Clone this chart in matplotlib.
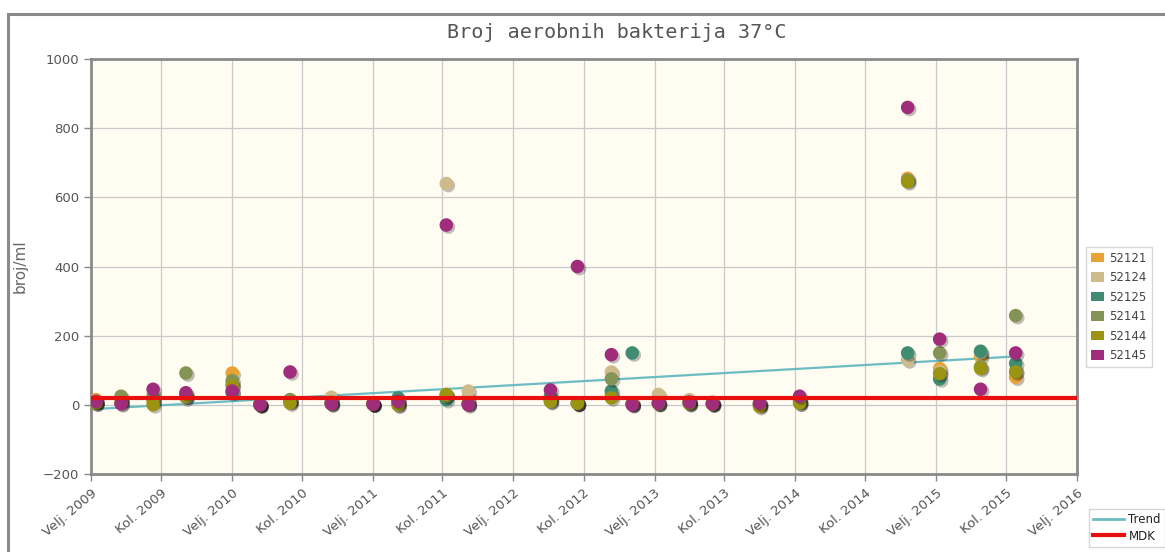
import matplotlib.pyplot as plt
import matplotlib.dates as mdates
import matplotlib.patheffects as pe
from matplotlib.lines import Line2D
from matplotlib.patches import Rectangle
import numpy as np

dates = ["2009-02-14", "2009-04-20", "2009-07-12", "2009-10-05", "2010-02-02",
         "2010-04-15", "2010-07-02", "2010-10-17", "2011-02-02", "2011-04-08",
         "2011-08-11", "2011-10-07", "2012-05-07", "2012-07-16", "2012-10-12",
         "2012-12-05", "2013-02-11", "2013-05-02", "2013-07-01", "2013-10-31",
         "2014-02-12", "2014-11-19", "2015-02-10", "2015-05-27", "2015-08-26"]

s52121 = [15, 10, 10, 30, 92, 3, 10, 10, 5, 5, 30, 20, 15, 5, 30, 5, 10, 10, 5, 3, 10, 655, 105, 140, 80]
s52124 = [10, 15, 30, 20, 60, 2, 15, 22, 3, 10, 640, 40, 20, 3, 95, 3, 30, 15, 8, 5, 5, 130, 95, 150, 100]
s52125 = [8, 20, 20, 25, 35, 0, 10, 5, 2, 20, 15, 5, 25, 5, 40, 150, 5, 5, 3, 0, 10, 150, 75, 155, 120]
s52141 = [5, 25, 15, 92, 70, 2, 15, 8, 3, 0, 25, 5, 10, 5, 75, 3, 5, 3, 5, 0, 15, 650, 150, 110, 258]
s52144 = [5, 5, 0, 25, 55, 0, 5, 3, 2, 0, 30, 3, 10, 5, 20, 2, 3, 5, 2, -5, 5, 645, 90, 105, 95]
s52145 = [10, 3, 45, 35, 40, 0, 95, 3, 2, 10, 520, 0, 43, 400, 145, 0, 5, 8, 3, 5, 25, 860, 190, 45, 150]

series_names = ["52121", "52124", "52125", "52141", "52144", "52145"]
series_values = [s52121, s52124, s52125, s52141, s52144, s52145]
series_colors = ["#e9a234", "#cdbb8c", "#3f8c70", "#849455", "#9b9413", "#a02c7c"]

trend_dates = ["2009-02-14", "2015-08-26"]
trend_values = [-12, 140]
mdk_value = 20

tick_dates = []
tick_labels = []
for yr in range(2009, 2017):
    tick_dates.append(f"{yr}-02-01")
    tick_labels.append(f"Velj. {yr}")
    if yr < 2016:
        tick_dates.append(f"{yr}-08-01")
        tick_labels.append(f"Kol. {yr}")

x = mdates.datestr2num(dates)
fig = plt.figure(figsize=(11.65, 5.52), dpi=100)
ax = fig.add_axes([91 / 1165, 1 - 474 / 552, (1077 - 91) / 1165, (474 - 59) / 552])
ax.set_facecolor("#fffcf2")

# outer frame of the chart
fig.patches.append(Rectangle((8 / 1165, -0.05), 1.1, 1 - 14 / 552 + 0.05,
                             transform=fig.transFigure, fill=False,
                             edgecolor="#8a8a8a", linewidth=2.2))

shadow = [pe.SimplePatchShadow(offset=(1.5, -1.5), shadow_rgbFace="#000000", alpha=0.25),
          pe.Normal()]
handles = []
for name, vals, col in zip(series_names, series_values, series_colors):
    ax.scatter(x, vals, s=95, color=col, edgecolors="none", zorder=4,
               path_effects=shadow)
    handles.append(Rectangle((0, 0), 1, 1, facecolor=col, edgecolor="none", label=name))

ax.plot(mdates.datestr2num(trend_dates), trend_values, color="#6cbcc4", lw=1.6, zorder=3)
xmin = mdates.datestr2num("2009-02-01")
xmax = mdates.datestr2num("2016-02-01")
ax.plot([xmin, xmax], [mdk_value, mdk_value], color="#e8100c", lw=3, zorder=5)

ax.set_xlim(xmin, xmax)
ax.set_ylim(-200, 1000)
ax.set_yticks(np.arange(-200, 1001, 200))
ax.set_xticks(mdates.datestr2num(tick_dates))
ax.set_xticklabels(tick_labels, rotation=40, ha="right", rotation_mode="anchor")
ax.tick_params(axis="both", colors="#888888", labelcolor="#555555", labelsize=9.5,
               length=5, width=1)
ax.tick_params(axis="x", pad=4)
ax.grid(True, color="#c9c9c9", lw=0.9)
ax.set_axisbelow(True)
for sp in ax.spines.values():
    sp.set_color("#8a8a8a")
    sp.set_linewidth(2)

ax.set_ylabel("broj/ml", color="#666666", fontsize=11)
ax.yaxis.set_label_coords(-0.064, 0.5)
fig.text(617 / 1165, 1 - 33 / 552, "Broj aerobnih bakterija 37°C", ha="center", va="center",
         fontsize=14.5, family="DejaVu Sans Mono", color="#555555")

leg1 = fig.legend(handles=handles, loc="upper left", bbox_to_anchor=(1080 / 1165, 1 - 241 / 552),
                  frameon=True, fontsize=8.5, handlelength=1.1, handleheight=0.9,
                  labelspacing=0.55, handletextpad=0.5, borderpad=0.4, fancybox=False,
                  edgecolor="#cccccc", labelcolor="#444444")
leg2 = fig.legend(handles=[Line2D([], [], color="#6cbcc4", lw=2, label="Trend"),
                           Line2D([], [], color="#e8100c", lw=3, label="MDK")],
                  loc="upper left", bbox_to_anchor=(1083 / 1165, 1 - 503 / 552),
                  frameon=True, fontsize=8.5, handlelength=2.6, labelspacing=0.3,
                  handletextpad=0.4, borderpad=0.35, fancybox=False,
                  edgecolor="#cccccc", labelcolor="#222222")

fig.savefig("out.png", dpi=100)
